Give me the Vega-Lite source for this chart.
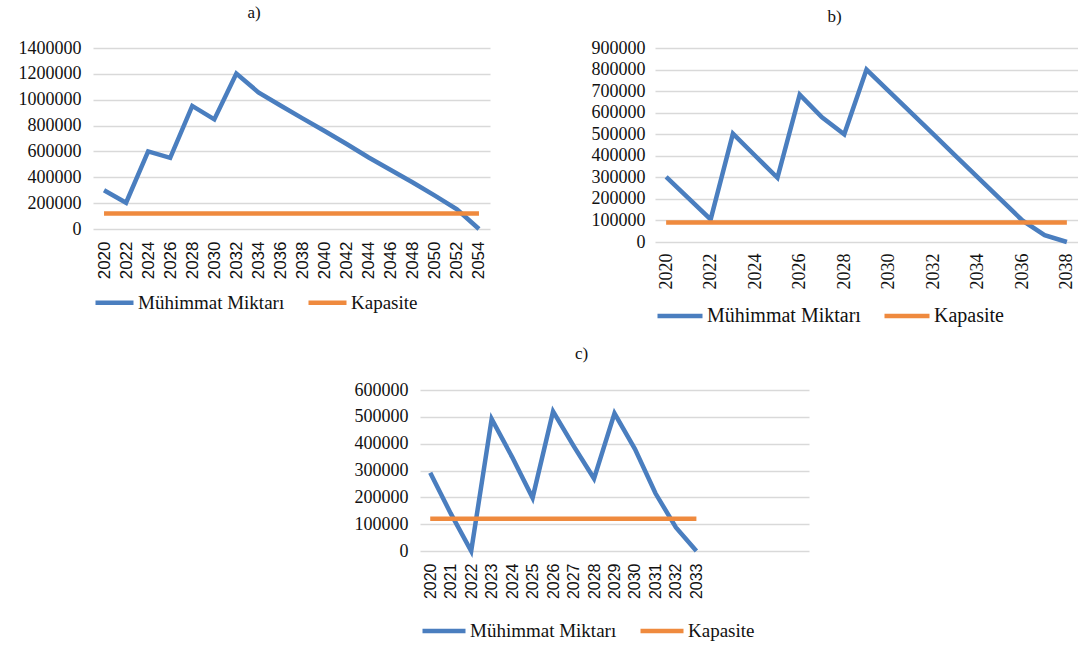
{
  "$schema": "https://vega.github.io/schema/vega-lite/v6.json",
  "background": "white",
  "padding": {"left": 18, "top": 4, "right": 0, "bottom": 0},
  "config": {
    "view": {"stroke": null},
    "font": "Liberation Serif",
    "axis": {"grid": true, "gridColor": "#d9d9d9", "gridWidth": 1.5, "domain": false, "ticks": false, "title": null, "labelColor": "#111", "labelFont": "Liberation Serif", "labelFontSize": 18},
    "axisX": {"grid": false, "labelAngle": -90, "labelFlush": false, "labelOverlap": false, "labelPadding": 12},
    "axisY": {"labelPadding": 12, "labelFlush": false, "labelOverlap": false},
    "legend": {"orient": "bottom", "direction": "horizontal", "title": null, "symbolType": "stroke", "symbolStrokeWidth": 4.5, "labelFont": "Liberation Serif", "labelColor": "#111", "labelLimit": 400, "columnPadding": 14, "labelOffset": 2},
    "title": {"font": "Liberation Serif", "fontSize": 17, "fontWeight": "normal", "color": "#111", "frame": "bounds", "anchor": "middle"},
    "line": {"strokeWidth": 4.5}
  },
  "datasets": {
    "a": [
      {"year": 2020, "series": "Mühimmat Miktarı", "value": 300000},
      {"year": 2022, "series": "Mühimmat Miktarı", "value": 203000},
      {"year": 2024, "series": "Mühimmat Miktarı", "value": 600000},
      {"year": 2026, "series": "Mühimmat Miktarı", "value": 550000},
      {"year": 2028, "series": "Mühimmat Miktarı", "value": 952000},
      {"year": 2030, "series": "Mühimmat Miktarı", "value": 848000},
      {"year": 2032, "series": "Mühimmat Miktarı", "value": 1202000},
      {"year": 2034, "series": "Mühimmat Miktarı", "value": 1057000},
      {"year": 2036, "series": "Mühimmat Miktarı", "value": 955000},
      {"year": 2038, "series": "Mühimmat Miktarı", "value": 856000},
      {"year": 2040, "series": "Mühimmat Miktarı", "value": 758000},
      {"year": 2042, "series": "Mühimmat Miktarı", "value": 657000},
      {"year": 2044, "series": "Mühimmat Miktarı", "value": 553000},
      {"year": 2046, "series": "Mühimmat Miktarı", "value": 456000},
      {"year": 2048, "series": "Mühimmat Miktarı", "value": 360000},
      {"year": 2050, "series": "Mühimmat Miktarı", "value": 258000},
      {"year": 2052, "series": "Mühimmat Miktarı", "value": 153000},
      {"year": 2054, "series": "Mühimmat Miktarı", "value": 0},
      {"year": 2020, "series": "Kapasite", "value": 120000},
      {"year": 2054, "series": "Kapasite", "value": 120000}
    ],
    "b": [
      {"year": 2020, "series": "Mühimmat Miktarı", "value": 302000},
      {"year": 2021, "series": "Mühimmat Miktarı", "value": 203000},
      {"year": 2022, "series": "Mühimmat Miktarı", "value": 105000},
      {"year": 2023, "series": "Mühimmat Miktarı", "value": 503000},
      {"year": 2024, "series": "Mühimmat Miktarı", "value": 400000},
      {"year": 2025, "series": "Mühimmat Miktarı", "value": 298000},
      {"year": 2026, "series": "Mühimmat Miktarı", "value": 684000},
      {"year": 2027, "series": "Mühimmat Miktarı", "value": 578000},
      {"year": 2028, "series": "Mühimmat Miktarı", "value": 500000},
      {"year": 2029, "series": "Mühimmat Miktarı", "value": 800000},
      {"year": 2030, "series": "Mühimmat Miktarı", "value": 700000},
      {"year": 2031, "series": "Mühimmat Miktarı", "value": 600000},
      {"year": 2032, "series": "Mühimmat Miktarı", "value": 500000},
      {"year": 2033, "series": "Mühimmat Miktarı", "value": 400000},
      {"year": 2034, "series": "Mühimmat Miktarı", "value": 300000},
      {"year": 2035, "series": "Mühimmat Miktarı", "value": 200000},
      {"year": 2036, "series": "Mühimmat Miktarı", "value": 100000},
      {"year": 2037, "series": "Mühimmat Miktarı", "value": 32000},
      {"year": 2038, "series": "Mühimmat Miktarı", "value": 0},
      {"year": 2020, "series": "Kapasite", "value": 90000},
      {"year": 2038, "series": "Kapasite", "value": 90000}
    ],
    "c": [
      {"year": 2020, "series": "Mühimmat Miktarı", "value": 292000},
      {"year": 2021, "series": "Mühimmat Miktarı", "value": 140000},
      {"year": 2022, "series": "Mühimmat Miktarı", "value": 0},
      {"year": 2023, "series": "Mühimmat Miktarı", "value": 492000},
      {"year": 2024, "series": "Mühimmat Miktarı", "value": 350000},
      {"year": 2025, "series": "Mühimmat Miktarı", "value": 198000},
      {"year": 2026, "series": "Mühimmat Miktarı", "value": 520000},
      {"year": 2027, "series": "Mühimmat Miktarı", "value": 392000},
      {"year": 2028, "series": "Mühimmat Miktarı", "value": 270000},
      {"year": 2029, "series": "Mühimmat Miktarı", "value": 513000},
      {"year": 2030, "series": "Mühimmat Miktarı", "value": 380000},
      {"year": 2031, "series": "Mühimmat Miktarı", "value": 215000},
      {"year": 2032, "series": "Mühimmat Miktarı", "value": 88000},
      {"year": 2033, "series": "Mühimmat Miktarı", "value": 0},
      {"year": 2020, "series": "Kapasite", "value": 120000},
      {"year": 2033, "series": "Kapasite", "value": 120000}
    ]
  },
  "spacing": 19,
  "vconcat": [
    {
      "spacing": 101,
      "hconcat": [
        {
          "title": {"text": "a)", "offset": 17},
          "width": 397,
          "height": 181,
          "data": {"name": "a"},
          "mark": {"type": "line"},
          "encoding": {
            "x": {"field": "year", "type": "quantitative", "scale": {"domain": [2019, 2055], "nice": false, "zero": false},
                  "axis": {"values": [2020,2022,2024,2026,2028,2030,2032,2034,2036,2038,2040,2042,2044,2046,2048,2050,2052,2054], "format": "d", "labelFont": "Liberation Sans", "labelFontSize": 17}},
            "y": {"field": "value", "type": "quantitative", "scale": {"domain": [0, 1400000], "nice": false},
                  "axis": {"values": [0,200000,400000,600000,800000,1000000,1200000,1400000], "format": "d"}},
            "color": {"field": "series", "type": "nominal", "sort": null,
                      "scale": {"domain": ["Mühimmat Miktarı", "Kapasite"], "range": ["#4a7ebf", "#ef8a3e"]},
                      "legend": {"offset": 2, "labelFont": "Liberation Serif", "labelFontSize": 19, "symbolSize": 1444}}
          }
        },
        {
          "title": {"text": "b)", "offset": 13},
          "width": 423,
          "height": 194,
          "data": {"name": "b"},
          "mark": {"type": "line"},
          "encoding": {
            "x": {"field": "year", "type": "quantitative", "scale": {"domain": [2019.5, 2038.5], "nice": false, "zero": false},
                  "axis": {"values": [2020,2022,2024,2026,2028,2030,2032,2034,2036,2038], "format": "d", "labelFontSize": 18, "labelPadding": 11}},
            "y": {"field": "value", "type": "quantitative", "scale": {"domain": [0, 900000], "nice": false},
                  "axis": {"values": [0,100000,200000,300000,400000,500000,600000,700000,800000,900000], "format": "d", "labelPadding": 10}},
            "color": {"field": "series", "type": "nominal", "sort": null,
                      "scale": {"domain": ["Mühimmat Miktarı", "Kapasite"], "range": ["#4a7ebf", "#ef8a3e"]},
                      "legend": {"offset": 2, "labelFont": "Liberation Serif", "labelFontSize": 20, "symbolSize": 2025}}
          }
        }
      ],
      "resolve": {"scale": {"color": "independent"}, "legend": {"color": "independent"}}
    },
    {
      "spacing": 0,
      "hconcat": [
        {
          "width": 261,
          "height": 10,
          "data": {"values": []},
          "mark": {"type": "point"},
          "encoding": {}
        },
        {
          "title": {"text": "c)", "offset": 18},
          "width": 389,
          "height": 161,
          "data": {"name": "c"},
          "mark": {"type": "line"},
          "encoding": {
            "x": {"field": "year", "type": "quantitative", "scale": {"domain": [2019.5, 2038.5], "nice": false, "zero": false},
                  "axis": {"values": [2020,2021,2022,2023,2024,2025,2026,2027,2028,2029,2030,2031,2032,2033], "format": "d", "labelFont": "Liberation Sans", "labelFontSize": 16}},
            "y": {"field": "value", "type": "quantitative", "scale": {"domain": [0, 600000], "nice": false},
                  "axis": {"values": [0,100000,200000,300000,400000,500000,600000], "format": "d"}},
            "color": {"field": "series", "type": "nominal", "sort": null,
                      "scale": {"domain": ["Mühimmat Miktarı", "Kapasite"], "range": ["#4a7ebf", "#ef8a3e"]},
                      "legend": {"offset": 8, "labelFont": "Liberation Serif", "labelFontSize": 19, "symbolSize": 1849}}
          }
        }
      ],
      "resolve": {"scale": {"color": "independent"}, "legend": {"color": "independent"}}
    }
  ],
  "resolve": {"scale": {"color": "independent"}, "legend": {"color": "independent"}}
}
